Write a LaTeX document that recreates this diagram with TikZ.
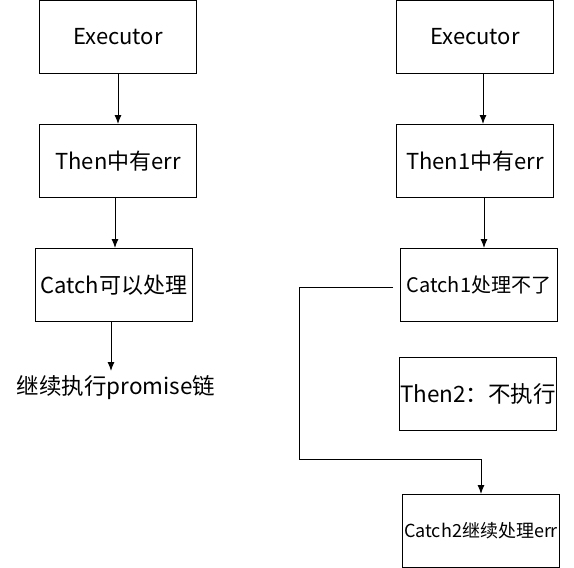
\documentclass[tikz,border=0pt]{standalone}
\usepackage{fontspec}
\setmainfont{Noto Sans CJK SC}
\usetikzlibrary{positioning,arrows.meta}

\begin{document}
\begin{tikzpicture}[x=1pt,y=-1pt,node distance=50pt,
    box/.style={draw,line width=1pt,minimum width=157pt,minimum height=73pt,
                inner sep=0pt,font=\fontsize{22}{26}\selectfont},
    arr/.style={-{Latex[length=9pt,width=7pt]},line width=1pt}]
    \useasboundingbox (0,0) rectangle (574,568);
    % left chain
    \node[box] (exec_l) at (118,37) {Executor};
    \node[box] (then_l) [below=of exec_l] {Then中有err};
    \node[box] (catch_l) [below=of then_l,xshift=-4pt] {Catch可以处理};
    \node[font=\fontsize{22.5}{26}\selectfont,inner sep=0pt] (goon_l) at (116,388) {继续执行promise链};
    \draw[arr] (exec_l) -- (then_l);
    \draw[arr] ([xshift=-3pt]then_l.south) -- ([xshift=1pt]catch_l.north);
    \draw[arr] ([xshift=-3pt]catch_l.south) -- ++(0,49);
    % right chain
    \node[box] (exec_r) at (475,37) {Executor};
    \node[box] (then_r) [below=of exec_r] {Then1中有err};
    \node[box,font=\fontsize{20}{24}\selectfont] (catch_r1) [below=of then_r,xshift=4pt] {Catch1处理不了};
    \node[box,font=\fontsize{22.5}{26}\selectfont] (then_r2) [below=35pt of catch_r1,xshift=-1pt] {Then2：不执行};
    \node[box,font=\fontsize{18}{21}\selectfont] (catch_r2) [below=63pt of then_r2,xshift=3pt] {Catch2继续处理err};
    \coordinate (turn) at (299,459);
    \draw[arr] ([xshift=8pt]exec_r.south) -- ([xshift=8pt]then_r.north);
    \draw[arr] ([xshift=9pt]then_r.south) -- ([xshift=5pt]catch_r1.north);
    \draw[arr] ([xshift=-7pt,yshift=-2pt]catch_r1.west) -| (turn) -| (catch_r2.north);
\end{tikzpicture}
\end{document}
